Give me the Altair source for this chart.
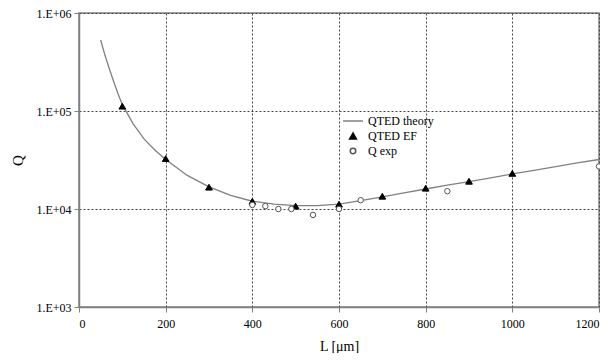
import altair as alt
import pandas as pd

# QTED theory curve
theory_L = [50, 60, 70, 80, 90, 100, 125, 150, 175, 200, 250, 300, 350, 400, 450, 500,
            550, 600, 650, 700, 750, 800, 850, 900, 950, 1000, 1050, 1100, 1150, 1200]
theory_Q = [5.3e5, 3.7e5, 2.7e5, 2.0e5, 1.5e5, 1.16e5, 7.4e4, 5.2e4, 4.0e4, 3.2e4, 2.2e4,
            1.68e4, 1.38e4, 1.2e4, 1.12e4, 1.08e4, 1.08e4, 1.12e4, 1.22e4, 1.33e4, 1.46e4,
            1.6e4, 1.75e4, 1.9e4, 2.08e4, 2.28e4, 2.48e4, 2.7e4, 2.95e4, 3.2e4]

# QTED EF points
ef_L = [100, 200, 300, 400, 500, 600, 700, 800, 900, 1000]
ef_Q = [1.12e5, 3.27e4, 1.67e4, 1.2e4, 1.07e4, 1.12e4, 1.35e4, 1.63e4, 1.92e4, 2.31e4]

# Q exp points
exp_L = [400, 430, 460, 490, 540, 600, 650, 850, 1200]
exp_Q = [1.1e4, 1.07e4, 1.0e4, 1.0e4, 8.7e3, 1.0e4, 1.23e4, 1.52e4, 2.72e4]

series_names = ["QTED theory", "QTED EF", "Q exp"]

theory = pd.DataFrame({"L": theory_L, "Q": theory_Q})
pts = pd.concat([
    pd.DataFrame({"L": ef_L, "Q": ef_Q, "series": "QTED EF"}),
    pd.DataFrame({"L": exp_L, "Q": exp_Q, "series": "Q exp"}),
])

FONT = "Liberation Serif"

x = alt.X("L:Q", scale=alt.Scale(domain=[0, 1200], nice=False),
          axis=alt.Axis(values=[0, 200, 400, 600, 800, 1000, 1200], title="L [μm]", format="d"))
y = alt.Y("Q:Q", scale=alt.Scale(type="log", domain=[1e3, 1e6], nice=False),
          axis=alt.Axis(values=[1e3, 1e4, 1e5, 1e6], title="Q",
                        labelExpr="'1.E+0' + round(log(datum.value)/LN10)"))

line = alt.Chart(theory).mark_line(color="#808080", strokeWidth=1.3).encode(x=x, y=y)

legend = alt.Legend(title=None, orient="none", legendX=263, legendY=97,
                    labelFont=FONT, labelFontSize=12, labelColor="black",
                    rowPadding=3, symbolStrokeWidth=1.5, symbolOffset=0)

points = alt.Chart(pts).mark_point(filled=False, opacity=1, strokeWidth=1).encode(
    x=x, y=y,
    shape=alt.Shape("series:N", scale=alt.Scale(domain=series_names,
                    range=["stroke", "triangle-up", "circle"]), legend=legend),
    fill=alt.Fill("series:N", scale=alt.Scale(domain=series_names,
                  range=["#808080", "black", "white"]), legend=legend),
    stroke=alt.Stroke("series:N", scale=alt.Scale(domain=series_names,
                      range=["#808080", "black", "#555555"]), legend=legend),
    size=alt.Size("series:N", scale=alt.Scale(type="ordinal", domain=series_names,
                  range=[400, 45, 30]), legend=legend),
)

chart = alt.layer(line, points).properties(
    width=520, height=294,
    autosize=alt.AutoSizeParams(type="none"),
    padding={"left": 71, "top": 5, "right": 1, "bottom": 46},
    background="white",
).configure_view(stroke="#808080", strokeWidth=1.5).configure_axis(
    domainColor="#808080", domainWidth=1.5, tickColor="#808080", tickSize=5,
    labelFont=FONT, labelFontSize=12, labelColor="black",
    titleFont=FONT, titleFontWeight="normal", titleColor="black",
    gridColor="#444444", gridDash=[2, 2], gridWidth=1, gridOpacity=1,
).configure_axisY(titleFontSize=15, titlePadding=10, titleAngle=270, labelPadding=3) \
 .configure_axisX(titleFontSize=14, titlePadding=10, labelPadding=6)

chart.save("out.html", embed_options={"renderer": "svg", "actions": False})
